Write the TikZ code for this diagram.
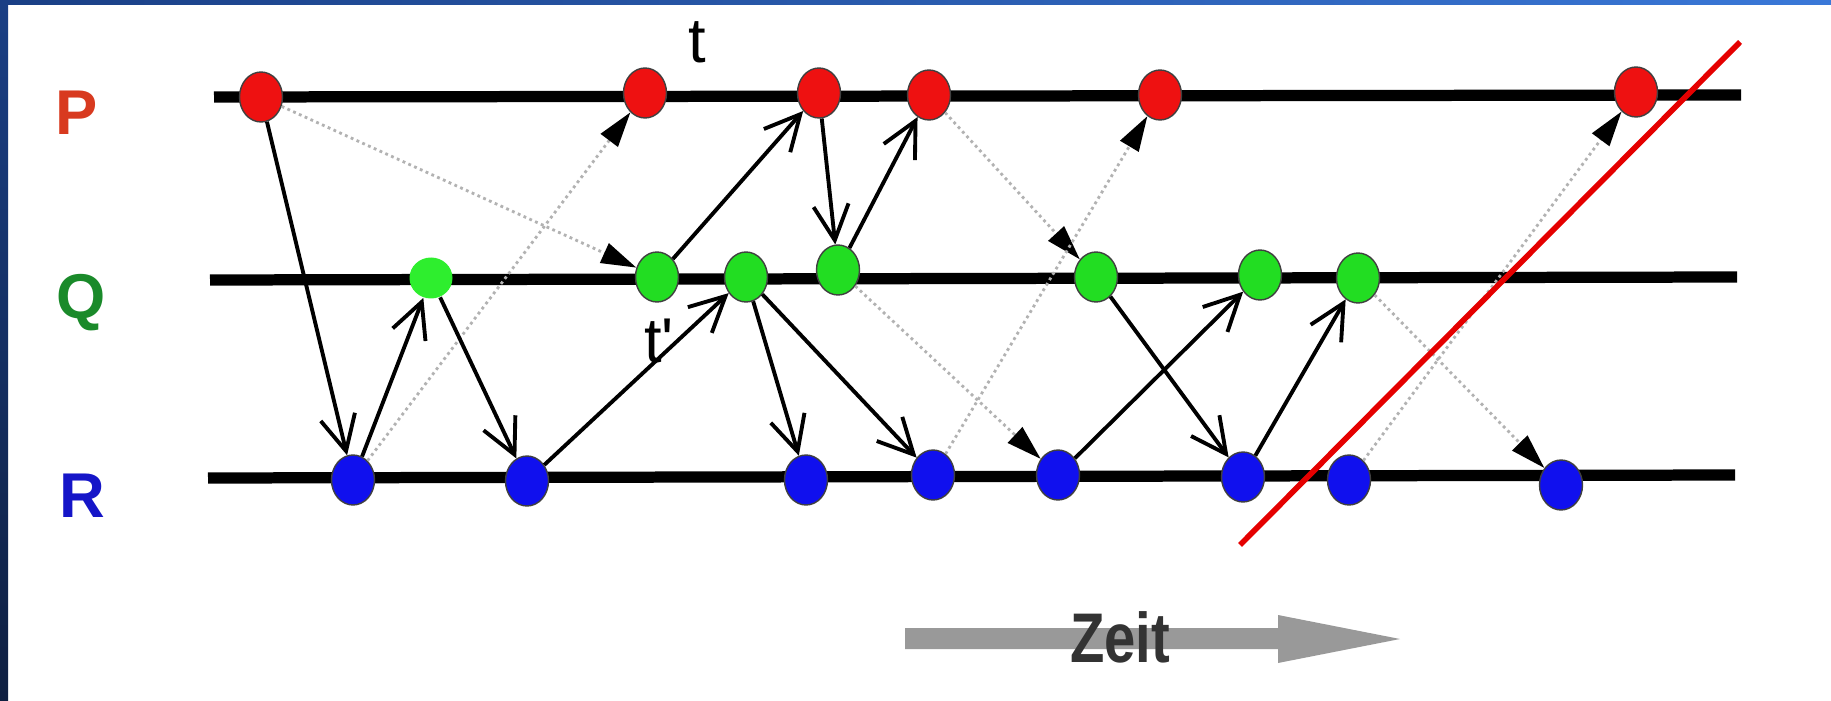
\documentclass[tikz,border=0pt]{standalone}
\usepackage{fontspec}
\setmainfont{Liberation Sans}
\usetikzlibrary{%
  arrows.meta,%
  shapes.geometric,% wg. ellipse
  positioning%
}
\definecolor{frameblueL}{HTML}{1A3F85}
\definecolor{frameblueR}{HTML}{3A78D8}
\definecolor{framenavy}{HTML}{0F1F40}
\definecolor{evred}{HTML}{EE1111}
\definecolor{evgreen}{HTML}{22DD22}
\definecolor{evgreenlight}{HTML}{2EEE2E}
\definecolor{evblue}{HTML}{1010EE}
\definecolor{lblred}{HTML}{D83A1F}
\definecolor{lblgreen}{HTML}{1A8A2A}
\definecolor{lblblue}{HTML}{1515C8}
\definecolor{zeitgray}{HTML}{999999}
\definecolor{zeittext}{HTML}{333333}

\begin{document}
\begin{tikzpicture}
[x=0.1mm, y=-0.1mm,
event/.style={ellipse, draw=black!75, line width=0.4pt, inner sep=0pt, minimum width=4.3mm, minimum height=5.0mm},
timeline/.style={line width=3.2pt},
msg/.style={line width=1.1pt, -{Straight Barb[length=10pt,width=10pt]}},
slowmsg/.style={gray!60, densely dotted, line width=0.8pt, -{Triangle[length=10pt,width=6pt,color=black]}},
proc/.style={anchor=base, font=\bfseries\fontsize{18}{20}\selectfont},
timelabel/.style={anchor=base, font=\fontsize{18}{20}\selectfont}]

\useasboundingbox (0,0) rectangle (1831,701);
\fill[white] (0,0) rectangle (1831,701);
\shade[left color=frameblueL, right color=frameblueR] (0,0) rectangle (1831,5);
\shade[top color=frameblueL, bottom color=framenavy] (0,0) rectangle (8,701);

\node[proc, text=lblred] (lblP) at (77,135) {P};
\node[proc, text=lblgreen] (lblQ) at (81,318) {Q};
\node[proc, text=lblblue] (lblR) at (82,517) {R};

\coordinate (Pstart) at (214,97);
\coordinate (Pend) at (1741,95);
\coordinate (Qstart) at (210,280);
\coordinate (Qend) at (1737,277);
\coordinate (Rstart) at (208,478);
\coordinate (Rend) at (1735,475);
\draw[timeline] (Pstart) -- (Pend);
\draw[timeline] (Qstart) -- (Qend);
\draw[timeline] (Rstart) -- (Rend);

\node[event, fill=evred] (p1) at (261,97) {};
\node[event, fill=evred] (p2) at (645,93) {};
\node[event, fill=evred] (p3) at (819,93) {};
\node[event, fill=evred] (p4) at (929,95) {};
\node[event, fill=evred] (p5) at (1160,95) {};
\node[event, fill=evred] (p6) at (1636,92) {};

\node[event, draw=none, fill=evgreenlight, minimum height=4.1mm] (q1) at (431,278) {};
\node[event, fill=evgreen] (q2) at (657,277) {};
\node[event, fill=evgreen] (q3) at (746,277) {};
\node[event, fill=evgreen] (q4) at (838,270) {};
\node[event, fill=evgreen] (q5) at (1096,277) {};
\node[event, fill=evgreen] (q6) at (1260,275) {};
\node[event, fill=evgreen] (q7) at (1358,278) {};

\node[event, fill=evblue] (r1) at (353,480) {};
\node[event, fill=evblue] (r2) at (527,481) {};
\node[event, fill=evblue] (r3) at (806,480) {};
\node[event, fill=evblue] (r4) at (933,475) {};
\node[event, fill=evblue] (r5) at (1058,475) {};
\node[event, fill=evblue] (r6) at (1243,477) {};
\node[event, fill=evblue] (r7) at (1349,480) {};
\node[event, fill=evblue] (r8) at (1561,485) {};

\node[timelabel] (tlabel) at (697,63) {t};
\node[timelabel] (tprime) at (659,362) {t\textquotesingle};

\path (p1) edge[msg] (r1)
           edge[slowmsg] (q2);
\path (r1) edge[msg] (q1)
           edge[slowmsg] (p2);
\path (q1) edge[msg] (r2);
\path (r2) edge[msg] (q3);
\path (q2) edge[msg] (p3);
\path (p3) edge[msg] (q4);
\path (q4) edge[msg] (p4)
           edge[slowmsg] (r5);
\path (q3) edge[msg] (r3)
           edge[msg] (r4);
\path (p4) edge[slowmsg] (q5);
\path (r4) edge[slowmsg] (p5);
\path (r5) edge[msg] (q6);
\path (q5) edge[msg] (r6);
\path (r6) edge[msg] (q7);
\path (r7) edge[slowmsg] (p6);
\path (q7) edge[slowmsg] (r8);

\coordinate (cutA) at (1240,545);
\coordinate (cutB) at (1740,42);
\draw[red!90!black, line width=1.6pt] (cutA) -- (cutB);

\fill[zeitgray] (905,628) -- (1278,628) -- (1278,615) -- (1400,639)
  -- (1278,663) -- (1278,649) -- (905,649) -- cycle;
\node[anchor=base, text=zeittext, font=\bfseries\fontsize{20}{22}\selectfont] (zeit) at (1120,662) {\scalebox{0.8}[1]{Zeit}};
\end{tikzpicture}
\end{document}
